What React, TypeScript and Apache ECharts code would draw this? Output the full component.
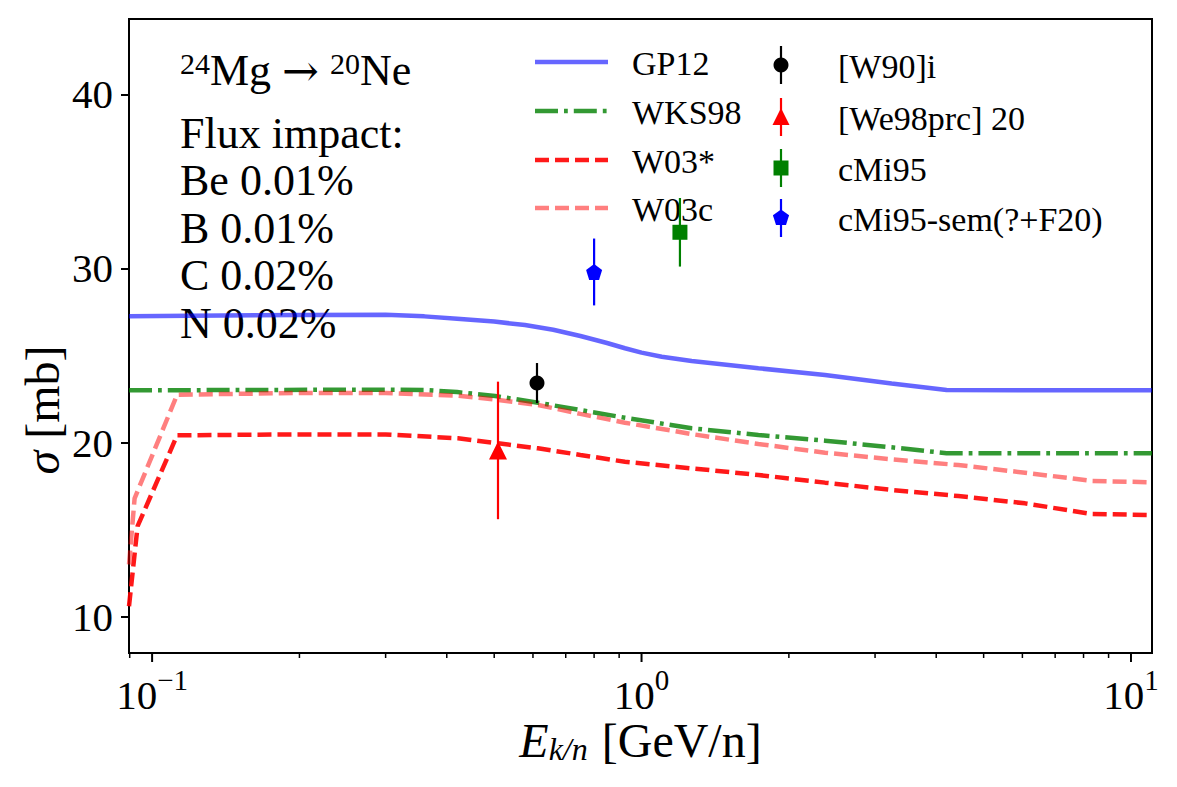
import React, { useEffect, useRef } from 'react';
import * as echarts from 'echarts';

// ---- axis ranges ----
const X_MIN = 0.0897;
const X_MAX = 11.04;
const Y_MIN = 7.915;
const Y_MAX = 44.33;
const Y_TICKS = [10, 20, 30, 40];
const X_MAJOR = [0.1, 1, 10];
const X_MAJOR_EXP = ['−1', '0', '1'];
const X_MINOR = [0.09, 0.2, 0.3, 0.4, 0.5, 0.6, 0.7, 0.8, 0.9, 2, 3, 4, 5, 6, 7, 8, 9];

// ---- model curves: [E_k/n (GeV/n), sigma (mb)] ----
const gp12 = [
  [0.0897, 27.25], [0.12, 27.28], [0.2, 27.33], [0.3, 27.35], [0.36, 27.25],
  [0.42, 27.12], [0.5, 26.95], [0.578, 26.75], [0.66, 26.48], [0.75, 26.12],
  [0.85, 25.72], [0.925, 25.42], [1.0, 25.17], [1.1, 24.93], [1.266, 24.69],
  [1.733, 24.27], [2.371, 23.88], [3.243, 23.4], [4.2, 23.02], [11.04, 23.0],
];
const wks98 = [
  [0.0897, 23.0], [0.15, 23.02], [0.3, 23.04], [0.36, 23.02], [0.42, 22.9],
  [0.502, 22.68], [0.6145, 22.29], [0.75, 21.87], [0.925, 21.43], [1.266, 20.82],
  [1.733, 20.44], [2.371, 20.11], [3.243, 19.73], [4.2, 19.39], [11.04, 19.39],
];
const w03star = [
  [0.0897, 10.6], [0.0934, 15.2], [0.1125, 20.42], [0.2, 20.47], [0.3, 20.47],
  [0.4217, 20.25], [0.509, 19.96], [0.6145, 19.67], [0.75, 19.29], [0.925, 18.9],
  [1.266, 18.52], [1.733, 18.14], [2.371, 17.7], [3.243, 17.28], [4.438, 16.93],
  [6.075, 16.51], [8.31, 15.9], [11.04, 15.84],
];
const w03c = [
  [0.0897, 13.0], [0.0921, 16.8], [0.1125, 22.75], [0.2, 22.85], [0.3, 22.85],
  [0.4217, 22.7], [0.509, 22.45], [0.6145, 22.16], [0.75, 21.65], [0.925, 21.14],
  [1.266, 20.49], [1.733, 19.92], [2.371, 19.42], [3.243, 19.04], [4.438, 18.71],
  [6.075, 18.27], [8.31, 17.8], [11.04, 17.72],
];

// ---- data points: [E_k/n, sigma, error] ----
const w90i = [[0.6115, 23.42, 1.15]];
const we98prc = [[0.509, 19.55, 3.95]];
const cmi95 = [[1.198, 32.08, 1.97]];
const cmi95sem = [[0.8, 29.8, 1.92]];

const FONT = '"Liberation Serif", "DejaVu Serif", serif';
const PENTAGON = 'path://M0,-1L0.951,-0.309L0.588,0.809L-0.588,0.809L-0.951,-0.309Z';
const LW = 4.5;

const lineDefs = [
  { name: 'GP12', data: gp12, color: 'rgba(0,0,255,0.6)', dash: 'solid' as any },
  { name: 'WKS98', data: wks98, color: 'rgba(0,128,0,0.8)', dash: [23, 6, 3.8, 6] },
  { name: 'W03*', data: w03star, color: 'rgba(255,0,0,0.9)', dash: [14, 6] },
  { name: 'W03c', data: w03c, color: 'rgba(255,0,0,0.5)', dash: [14, 6] },
];

const pointDefs = [
  { name: '[W90]i', data: w90i, color: '#000000', symbol: 'circle', size: 15 },
  { name: '[We98prc] 20', data: we98prc, color: '#ff0000', symbol: 'triangle', size: 18 },
  { name: 'cMi95', data: cmi95, color: '#008000', symbol: 'rect', size: 15 },
  { name: 'cMi95-sem(?+F20)', data: cmi95sem, color: '#0000ff', symbol: PENTAGON, size: 16 },
];

function buildOption(): any {
  const series: any[] = [];
  lineDefs.forEach((l, i) => {
    series.push({
      type: 'line',
      name: l.name,
      data: l.data,
      symbol: 'none',
      showSymbol: false,
      smooth: false,
      z: 2 + i * 0.01,
      lineStyle: { color: l.color, width: LW, type: l.dash, cap: 'butt' },
      emphasis: { disabled: true },
    });
  });
  pointDefs.forEach((p) => {
    series.push({
      type: 'custom',
      name: p.name + ' err',
      data: p.data.map((d) => [d[0], d[1], d[1] - d[2], d[1] + d[2]]),
      encode: { x: 0, y: [1, 2, 3] },
      z: 5,
      renderItem: (params: any, api: any) => {
        const lo = api.coord([api.value(0), api.value(2)]);
        const hi = api.coord([api.value(0), api.value(3)]);
        return {
          type: 'line',
          shape: { x1: lo[0], y1: lo[1], x2: hi[0], y2: hi[1] },
          style: { stroke: p.color, lineWidth: 2.2 },
        };
      },
    });
    series.push({
      type: 'scatter',
      name: p.name,
      data: p.data.map((d) => [d[0], d[1]]),
      symbol: p.symbol,
      symbolSize: p.size,
      itemStyle: { color: p.color, opacity: 1 },
      z: 6,
      emphasis: { disabled: true },
    });
  });

  return {
    animation: false,
    backgroundColor: '#ffffff',
    grid: {
      left: 129, right: 25, top: 19, bottom: 134,
      show: true, borderColor: '#000000', borderWidth: 2, backgroundColor: 'transparent',
      containLabel: false,
    },
    xAxis: {
      type: 'log',
      logBase: 10,
      min: X_MIN,
      max: X_MAX,
      axisLine: { show: false },
      axisTick: { show: false },
      axisLabel: { show: false },
      splitLine: { show: false },
      minorTick: { show: false },
      name: '{i|E}{sub|k/n}{n| [GeV/n]}',
      nameLocation: 'middle',
      nameGap: 62,
      nameTextStyle: {
        color: '#000',
        fontFamily: FONT,
        fontSize: 48,
        rich: {
          i: { fontSize: 48, fontStyle: 'italic', fontFamily: FONT, color: '#000' },
          sub: { fontSize: 32, fontStyle: 'italic', fontFamily: FONT, color: '#000', verticalAlign: 'bottom', padding: [18, 2, 0, 0] },
          n: { fontSize: 48, fontFamily: FONT, color: '#000' },
        },
      },
    },
    yAxis: {
      type: 'value',
      min: Y_MIN,
      max: Y_MAX,
      axisLine: { show: false },
      splitLine: { show: false },
      axisTick: {
        show: true, inside: false, length: 8,
        lineStyle: { color: '#000', width: 2 },
        customValues: Y_TICKS,
      },
      axisLabel: {
        show: true, color: '#000', fontFamily: FONT, fontSize: 41, margin: 16,
        customValues: Y_TICKS,
      },
    },
    series,
  };
}

function buildGraphics(chart: any): any[] {
  const g: any[] = [];
  const yb = chart.convertToPixel({ yAxisIndex: 0 }, Y_MIN) as number;
  const yTop = chart.convertToPixel({ yAxisIndex: 0 }, Y_MAX) as number;

  // x axis ticks (log axis)
  X_MAJOR.forEach((v, i) => {
    const x = chart.convertToPixel({ xAxisIndex: 0 }, v) as number;
    g.push({ type: 'line', silent: true, shape: { x1: x, y1: yb, x2: x, y2: yb + 9 }, style: { stroke: '#000', lineWidth: 2 } });
    g.push({
      type: 'text', silent: true, x, y: yb + 12,
      style: {
        text: '{b|10}{s|' + X_MAJOR_EXP[i] + '}',
        align: 'center', verticalAlign: 'top', fill: '#000',
        rich: {
          b: { fontSize: 41, fontFamily: FONT, fill: '#000', color: '#000', padding: [9, 0, 0, 0] },
          s: { fontSize: 29, fontFamily: FONT, fill: '#000', color: '#000', verticalAlign: 'top' },
        },
      },
    });
  });
  X_MINOR.forEach((v) => {
    const x = chart.convertToPixel({ xAxisIndex: 0 }, v) as number;
    g.push({ type: 'line', silent: true, shape: { x1: x, y1: yb, x2: x, y2: yb + 5 }, style: { stroke: '#000', lineWidth: 1.5 } });
  });

  // y axis title
  g.push({
    type: 'text', silent: true, x: 42, y: (yb + yTop) / 2 + 74, rotation: Math.PI / 2,
    style: {
      text: '{i|σ}{n| [mb]}',
      align: 'center', verticalAlign: 'middle', fill: '#000',
      rich: {
        i: { fontSize: 48, fontStyle: 'italic', fontFamily: FONT, fill: '#000', color: '#000' },
        n: { fontSize: 48, fontFamily: FONT, fill: '#000', color: '#000' },
      },
    },
  });

  // annotation text
  g.push({
    type: 'text', silent: true, x: 180, y: 70,
    style: {
      text: '{s|24}{b|Mg }{a|→}{b| }{s|20}{b|Ne}',
      align: 'left', verticalAlign: 'middle', fill: '#000',
      rich: {
        b: { fontSize: 44, fontFamily: FONT, fill: '#000', color: '#000' },
        a: { fontSize: 44, fontFamily: '"DejaVu Serif", serif', fill: '#000', color: '#000' },
        s: { fontSize: 30, fontFamily: FONT, fill: '#000', color: '#000', verticalAlign: 'top' },
      },
    },
  });
  const annLines = ['Flux impact:', 'Be 0.01%', 'B 0.01%', 'C 0.02%', 'N 0.02%'];
  annLines.forEach((t, i) => {
    g.push({
      type: 'text', silent: true, x: 180, y: 133 + i * 47.5,
      style: { text: t, fontSize: 44, fontFamily: FONT, fill: '#000', align: 'left', verticalAlign: 'middle' },
    });
  });

  // legend column 1 (lines)
  const rows1 = [62, 111, 160, 208];
  lineDefs.forEach((l, i) => {
    const y = rows1[i];
    g.push({
      type: 'line', silent: true,
      shape: { x1: 535, y1: y, x2: 608, y2: y },
      style: { stroke: l.color, lineWidth: LW, lineDash: l.dash === 'solid' ? null : l.dash, lineCap: 'butt' },
    });
    g.push({
      type: 'text', silent: true, x: 632, y: y + 1,
      style: { text: l.name, fontSize: 34, fontFamily: FONT, fill: '#000', align: 'left', verticalAlign: 'middle' },
    });
  });

  // legend column 2 (points with error bars)
  const rows2 = [65, 117, 168, 218];
  const mx = 781;
  pointDefs.forEach((p, i) => {
    const y = rows2[i];
    g.push({ type: 'line', silent: true, shape: { x1: mx, y1: y - 19, x2: mx, y2: y + 19 }, style: { stroke: p.color, lineWidth: 2.2 } });
    let marker: any;
    if (p.symbol === 'circle') {
      marker = { type: 'circle', shape: { cx: mx, cy: y, r: 7.5 } };
    } else if (p.symbol === 'triangle') {
      marker = { type: 'polygon', shape: { points: [[mx, y - 9], [mx + 8.5, y + 8], [mx - 8.5, y + 8]] } };
    } else if (p.symbol === 'rect') {
      marker = { type: 'rect', shape: { x: mx - 7.5, y: y - 7.5, width: 15, height: 15 } };
    } else {
      const r = 8.5;
      const pts = [0, 1, 2, 3, 4].map((k) => {
        const a = -Math.PI / 2 + (k * 2 * Math.PI) / 5;
        return [mx + r * Math.cos(a), y + r * Math.sin(a)];
      });
      marker = { type: 'polygon', shape: { points: pts } };
    }
    marker.silent = true;
    marker.style = { fill: p.color };
    g.push(marker);
    g.push({
      type: 'text', silent: true, x: 838, y: y + 1,
      style: { text: p.name, fontSize: 34, fontFamily: FONT, fill: '#000', align: 'left', verticalAlign: 'middle' },
    });
  });

  return g;
}

export default function App() {
  const ref = useRef<HTMLDivElement>(null);
  useEffect(() => {
    if (!ref.current) return;
    const chart = echarts.init(ref.current, null, { renderer: 'svg' });
    chart.setOption(buildOption());
    chart.setOption({ graphic: buildGraphics(chart) });
    return () => chart.dispose();
  }, []);
  return (
    <div
      ref={ref}
      style={{ position: 'fixed', left: 0, top: 0, width: 1177, height: 787, background: '#fff' }}
    />
  );
}
